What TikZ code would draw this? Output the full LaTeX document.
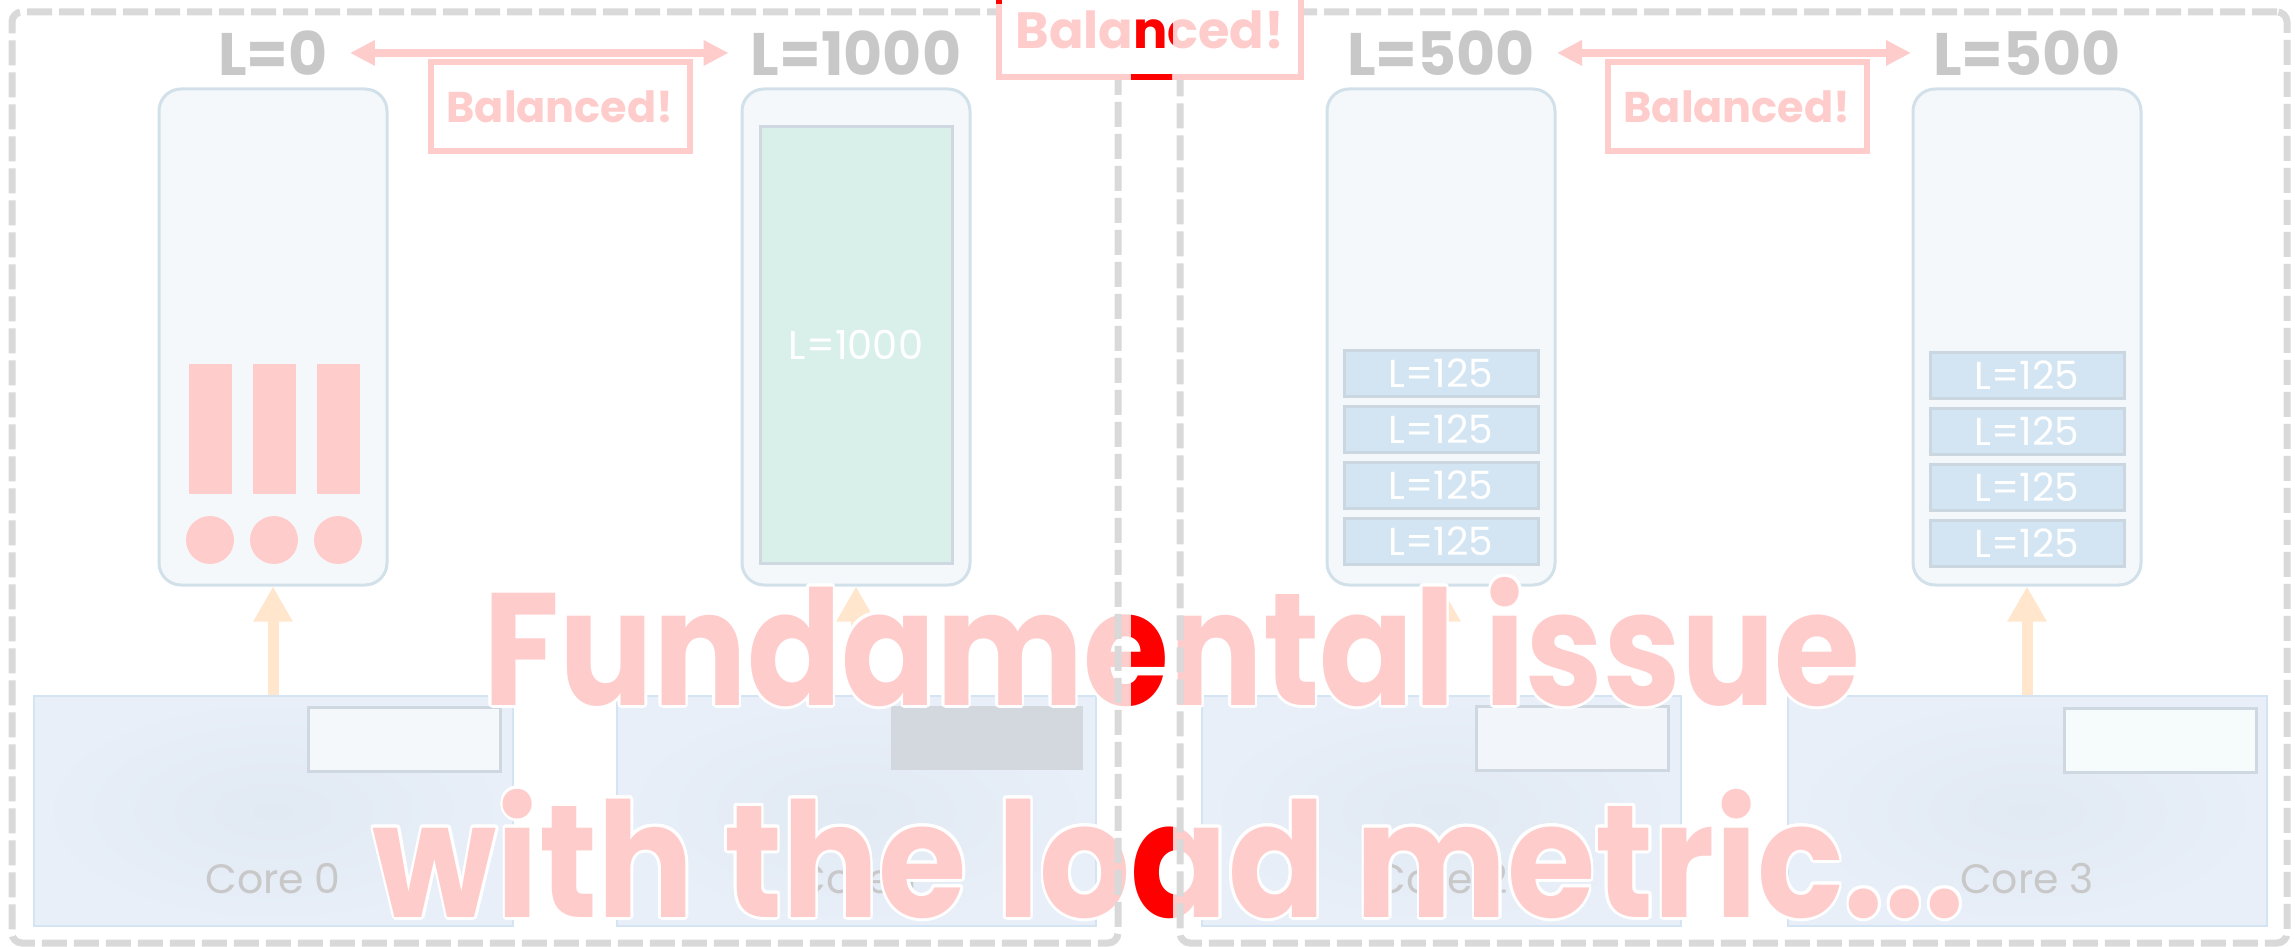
\documentclass[tikz,border=0pt]{standalone}
\usepackage{fontspec}
\setmainfont{Poppins}
\usepackage[copies]{contour}
\contourlength{3pt}
\usetikzlibrary{arrows.meta,positioning}

\definecolor{framegray}{HTML}{D9D9D9}
\definecolor{lblgray}{HTML}{C8C8C8}
\definecolor{softpink}{HTML}{FFCCCC}
\definecolor{queuefill}{HTML}{F4F8FB}
\definecolor{queueline}{HTML}{D2E0EA}
\definecolor{coreinner}{HTML}{E1E9F3}
\definecolor{coreouter}{HTML}{E8EFF8}
\definecolor{coreline}{HTML}{D4E4F2}
\definecolor{slotline}{HTML}{CFD8E0}
\definecolor{slotgray}{HTML}{D2D8DD}
\definecolor{greenfill}{HTML}{D9F0EA}
\definecolor{taskfill}{HTML}{D3E5F2}
\definecolor{taskline}{HTML}{CBD7E0}
\definecolor{feedorange}{HTML}{FFE6CC}

\begin{document}
\begin{tikzpicture}[x=1pt, y=-1pt,
  frame/.style={draw=framegray, line width=7pt, dash pattern=on 25pt off 7pt,
                rounded corners=10pt, inner sep=0pt},
  load/.style={font=\bfseries\fontsize{60}{60}\selectfont, text=lblgray, inner sep=0pt},
  balance/.style={draw=softpink, fill=white, line width=6pt, text=softpink, inner sep=0pt,
                  font=\bfseries\fontsize{43}{43}\selectfont,
                  minimum width=259pt, minimum height=89pt},
  queue/.style={draw=queueline, fill=queuefill, line width=3pt, rounded corners=22pt,
                minimum width=228pt, minimum height=496pt},
  bar/.style={fill=softpink, inner sep=0pt, minimum width=43pt, minimum height=130pt},
  dot/.style={circle, fill=softpink, inner sep=0pt, minimum size=48pt},
  bigtask/.style={draw=slotline, fill=greenfill, line width=3pt, text=white,
                  font=\fontsize{40}{40}\selectfont, minimum width=192pt, minimum height=437pt},
  task/.style={draw=taskline, fill=taskfill, line width=3pt, text=white,
               font=\fontsize{39}{39}\selectfont, minimum width=194pt, minimum height=46pt},
  core/.style={draw=coreline, line width=2pt, inner color=coreinner, outer color=coreouter,
               minimum width=479pt, minimum height=230pt},
  slot/.style={draw=slotline, line width=3pt, minimum width=192pt, minimum height=64pt,
               anchor=north east},
  corename/.style={text=lblgray, inner sep=0pt, font=\fontsize{41}{41}\selectfont},
  both/.style={{Triangle[length=25pt,width=24pt]}-{Triangle[length=25pt,width=24pt]},
               draw=softpink, line width=8pt, shorten <=22pt, shorten >=22pt},
  feed/.style={-{Triangle[length=35pt,width=37pt]}, draw=feedorange, line width=11pt},
  headline/.style={text=#1, inner sep=0pt, anchor=base,
                   font=\bfseries\fontsize{160}{160}\selectfont}
]
\path[use as bounding box] (0,0) rectangle (2295,947);
\clip (0,0) rectangle (2295,947);

\node[queue] (q0) at (273,337) {};
\node[queue] (q1) at (856,337) {};
\node[queue] (q2) at (1441,337) {};
\node[queue] (q3) at (2027,337) {};

\foreach \i/\x in {0/210,1/274,2/338} {
  \node[bar] (bar\i) at (\x,429) {};
  \node[dot] (dot\i) at (\x,540) {};
}
\node[bigtask] (t1000) at (856,345) {L=1000};
\foreach \k/\y in {0/373,1/429,2/485,3/541} {
  \node[task] (ta\k) at (1441,\y) {L=125};
  \node[task] (tb\k) at (2027,\y+2) {L=125};
}

\node[load, above=12pt of q0] (l0) {L=0};
\node[load, above=12pt of q1] (l1) {L=1000};
\node[load, above=12pt of q2] (l2) {L=500};
\node[load, above=12pt of q3] (l3) {L=500};
\draw[both] (l0) -- (l1);
\draw[both] (l2) -- (l3);
\node[balance] (bal0) at (560,107) {Balanced!};
\node[balance] (bal1) at (1737,107) {Balanced!};

\foreach \i/\x in {0/273,1/856,2/1441,3/2027} {
  \node[core] (core\i) at (\x,811) {};
  \node[corename, above=33pt of core\i.south] (name\i) {Core \i};
  \draw[feed] (core\i) -- (q\i);
}
\node[slot, fill=queuefill] (slot0) at ([shift={(-12,11)}]core0.north east) {};
\node[slot, fill=slotgray, draw=none] (slot1) at ([shift={(-12,9)}]core1.north east) {};
\node[slot, fill=queuefill!80!coreouter] (slot2) at ([shift={(-12,10)}]core2.north east) {};
\node[slot, fill=queuefill!60!greenfill!40!white] (slot3) at ([shift={(-10,12)}]core3.north east) {};

\node[headline=softpink] (issue) at (1172,705)
  {\scalebox{0.87}[1]{\contour{white}{Fundamental issue}}};
\node[headline=softpink] (metric) at (1169,917)
  {\scalebox{0.895}[1]{\contour{white}{with the load metric...}}};

\node[frame, minimum width=1106pt, minimum height=931pt] (left) at (565,477.5) {};
\node[frame, minimum width=1107pt, minimum height=931pt] (right) at (1733.5,477.5) {};

\node[balance, font=\bfseries\fontsize{51}{51}\selectfont,
      minimum width=302pt, minimum height=94pt] (balTop) at (1150,30) {Balanced!};

\begin{scope}
  \clip (1131,-30) rectangle (1172,960) (995,-30) rectangle (1006,4);
  \node[balance, fill=none, draw=red, text=red, font=\bfseries\fontsize{51}{51}\selectfont,
        minimum width=302pt, minimum height=94pt] (balTopR) at (1150,30) {Balanced!};
  \node[headline=red] (issueR) at (1172,705)
    {\scalebox{0.87}[1]{\contour{white}{Fundamental issue}}};
  \node[headline=red] (metricR) at (1169,917)
    {\scalebox{0.895}[1]{\contour{white}{with the load metric...}}};
\end{scope}
\end{tikzpicture}
\end{document}
